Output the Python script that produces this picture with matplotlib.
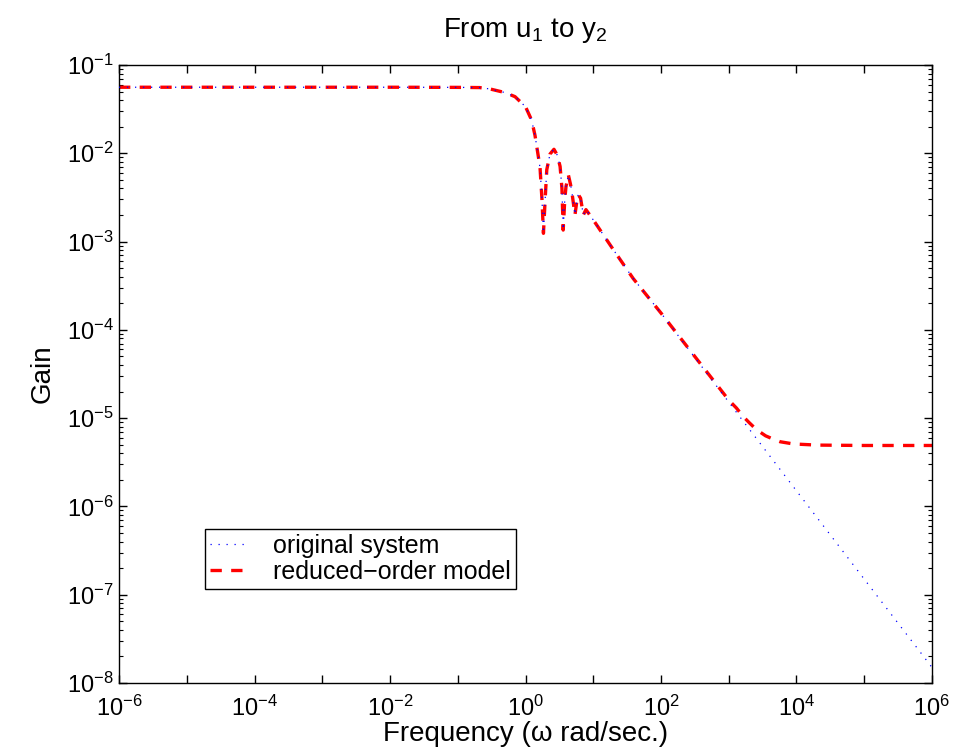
import matplotlib
matplotlib.use('Agg')
import matplotlib.pyplot as plt
import numpy as np
from matplotlib.ticker import FixedLocator, LogLocator, NullLocator, FuncFormatter

# === global style (MATLAB-like) ===
plt.rcParams['font.family'] = ['Liberation Sans', 'DejaVu Sans']
plt.rcParams['mathtext.fontset'] = 'custom'
plt.rcParams['mathtext.rm'] = 'Liberation Sans'
plt.rcParams['mathtext.it'] = 'Liberation Sans'
plt.rcParams['font.size'] = 17
plt.rcParams['axes.linewidth'] = 1.0

# === data ===
# original system
freq_orig = [1e-6, 1e-4, 1e-2, 0.1, 0.21, 0.30, 0.50, 0.70, 1.0, 1.23, 1.38, 1.55, 1.64,
             1.75, 1.84, 1.95, 2.06, 2.3, 2.63, 2.95, 3.24, 3.45, 3.6, 3.8, 3.96, 4.29,
             4.6, 4.8, 5.37, 5.7, 6.0, 6.5, 7.14, 7.8, 8.5, 10, 20, 39, 100, 1e3, 1.62e3,
             1e4, 1e5, 1e6]
gain_orig = [0.056, 0.056, 0.056, 0.0558, 0.0555, 0.0535, 0.0487, 0.0438, 0.0337, 0.0238,
             0.016, 0.0091, 0.0068, 0.003, 0.00124, 0.003, 0.0065, 0.0098, 0.0111, 0.0095,
             0.0071, 0.0040, 0.00135, 0.0030, 0.0042, 0.0057, 0.0045, 0.0038, 0.0020,
             0.0028, 0.0034, 0.0031, 0.0020, 0.0023, 0.0021, 0.00176, 8.0e-4, 3.8e-4,
             1.55e-4, 1.52e-5, 9.3e-6, 1.5e-6, 1.5e-7, 1.5e-8]

# reduced-order model
freq_red = [1e-6, 1e-4, 1e-2, 0.1, 0.21, 0.30, 0.50, 0.70, 1.0, 1.23, 1.38, 1.55, 1.64,
            1.75, 1.84, 1.95, 2.06, 2.3, 2.63, 2.95, 3.24, 3.45, 3.6, 3.8, 3.96, 4.29,
            4.6, 4.8, 5.37, 5.7, 6.0, 6.5, 7.14, 7.8, 8.5, 10, 20, 39, 100, 1e3, 1.3e3,
            1.62e3, 2e3, 2.57e3, 3.5e3, 4.5e3, 5.75e3, 9e3, 2e4, 1e5, 1e6]
gain_red = [0.056, 0.056, 0.056, 0.0558, 0.0555, 0.0535, 0.0487, 0.0438, 0.0337, 0.0238,
            0.016, 0.0091, 0.0068, 0.003, 0.00124, 0.003, 0.0065, 0.0098, 0.0111, 0.0095,
            0.0071, 0.0040, 0.00135, 0.0030, 0.0042, 0.0057, 0.0045, 0.0038, 0.0020,
            0.0028, 0.0034, 0.0031, 0.0020, 0.0023, 0.0021, 0.00176, 8.0e-4, 3.8e-4,
            1.55e-4, 1.6e-5, 1.3e-5, 1.05e-5, 8.9e-6, 7.4e-6, 6.3e-6, 5.8e-6, 5.4e-6,
            5.1e-6, 4.95e-6, 4.9e-6, 4.9e-6]

x_decades = np.arange(-6, 7)


def plot_gain():
    fig = plt.figure(figsize=(9.66, 7.55), dpi=100)
    ax = fig.add_axes([0.1232, 0.0954, 0.8416, 0.8185])

    l_red, = ax.loglog(freq_red, gain_red, color='#ff0000', linewidth=2.4,
                       dashes=(3.4, 2.8), label='reduced\u2212order model', zorder=2)
    l_blue, = ax.loglog(freq_orig, gain_orig, color='#0000ff', linewidth=0.9,
                        dashes=(1.0, 5.4), label='original system', zorder=3)

    ax.set_xlim(1e-6, 1e6)
    ax.set_ylim(1e-8, 1e-1)

    # x: ticks every decade, labels every second decade, no minor ticks
    ax.xaxis.set_major_locator(FixedLocator(10.0 ** x_decades))
    ax.xaxis.set_minor_locator(NullLocator())
    ax.xaxis.set_major_formatter(FuncFormatter(
        lambda v, p: '$10^{%d}$' % round(np.log10(v)) if round(np.log10(v)) % 2 == 0 else ''))
    ax.yaxis.set_major_locator(LogLocator(base=10, numticks=20))
    ax.yaxis.set_minor_locator(LogLocator(base=10, subs=np.arange(2, 10), numticks=100))
    ax.yaxis.set_major_formatter(FuncFormatter(lambda v, p: '$10^{%d}$' % round(np.log10(v))))

    ax.tick_params(which='both', direction='in', top=True, right=True, labelsize=17)
    ax.tick_params(which='major', length=6, width=1.0)
    ax.tick_params(axis='y', which='major', pad=4)
    ax.tick_params(axis='x', which='major', pad=9)
    ax.tick_params(which='minor', length=3, width=0.8)

    ax.set_xlabel('Frequency (\u03c9 rad/sec.)', fontsize=20, labelpad=0)
    ax.set_ylabel('Gain', fontsize=20, labelpad=8)
    ax.set_title('From u$_1$ to y$_2$', fontsize=20, pad=20)

    leg = ax.legend(handles=[l_blue, l_red], loc='lower left',
                    bbox_to_anchor=(0.106, 0.152, 0.382, 0.096), mode='expand',
                    borderaxespad=0, fancybox=False, framealpha=1, edgecolor='black',
                    fontsize=18, handlelength=1.5, handletextpad=1.0,
                    borderpad=0.2, labelspacing=0.1)
    leg.get_frame().set_linewidth(1.0)

    fig.savefig('out.png', dpi=100)


if __name__ == "__main__":
    plot_gain()
